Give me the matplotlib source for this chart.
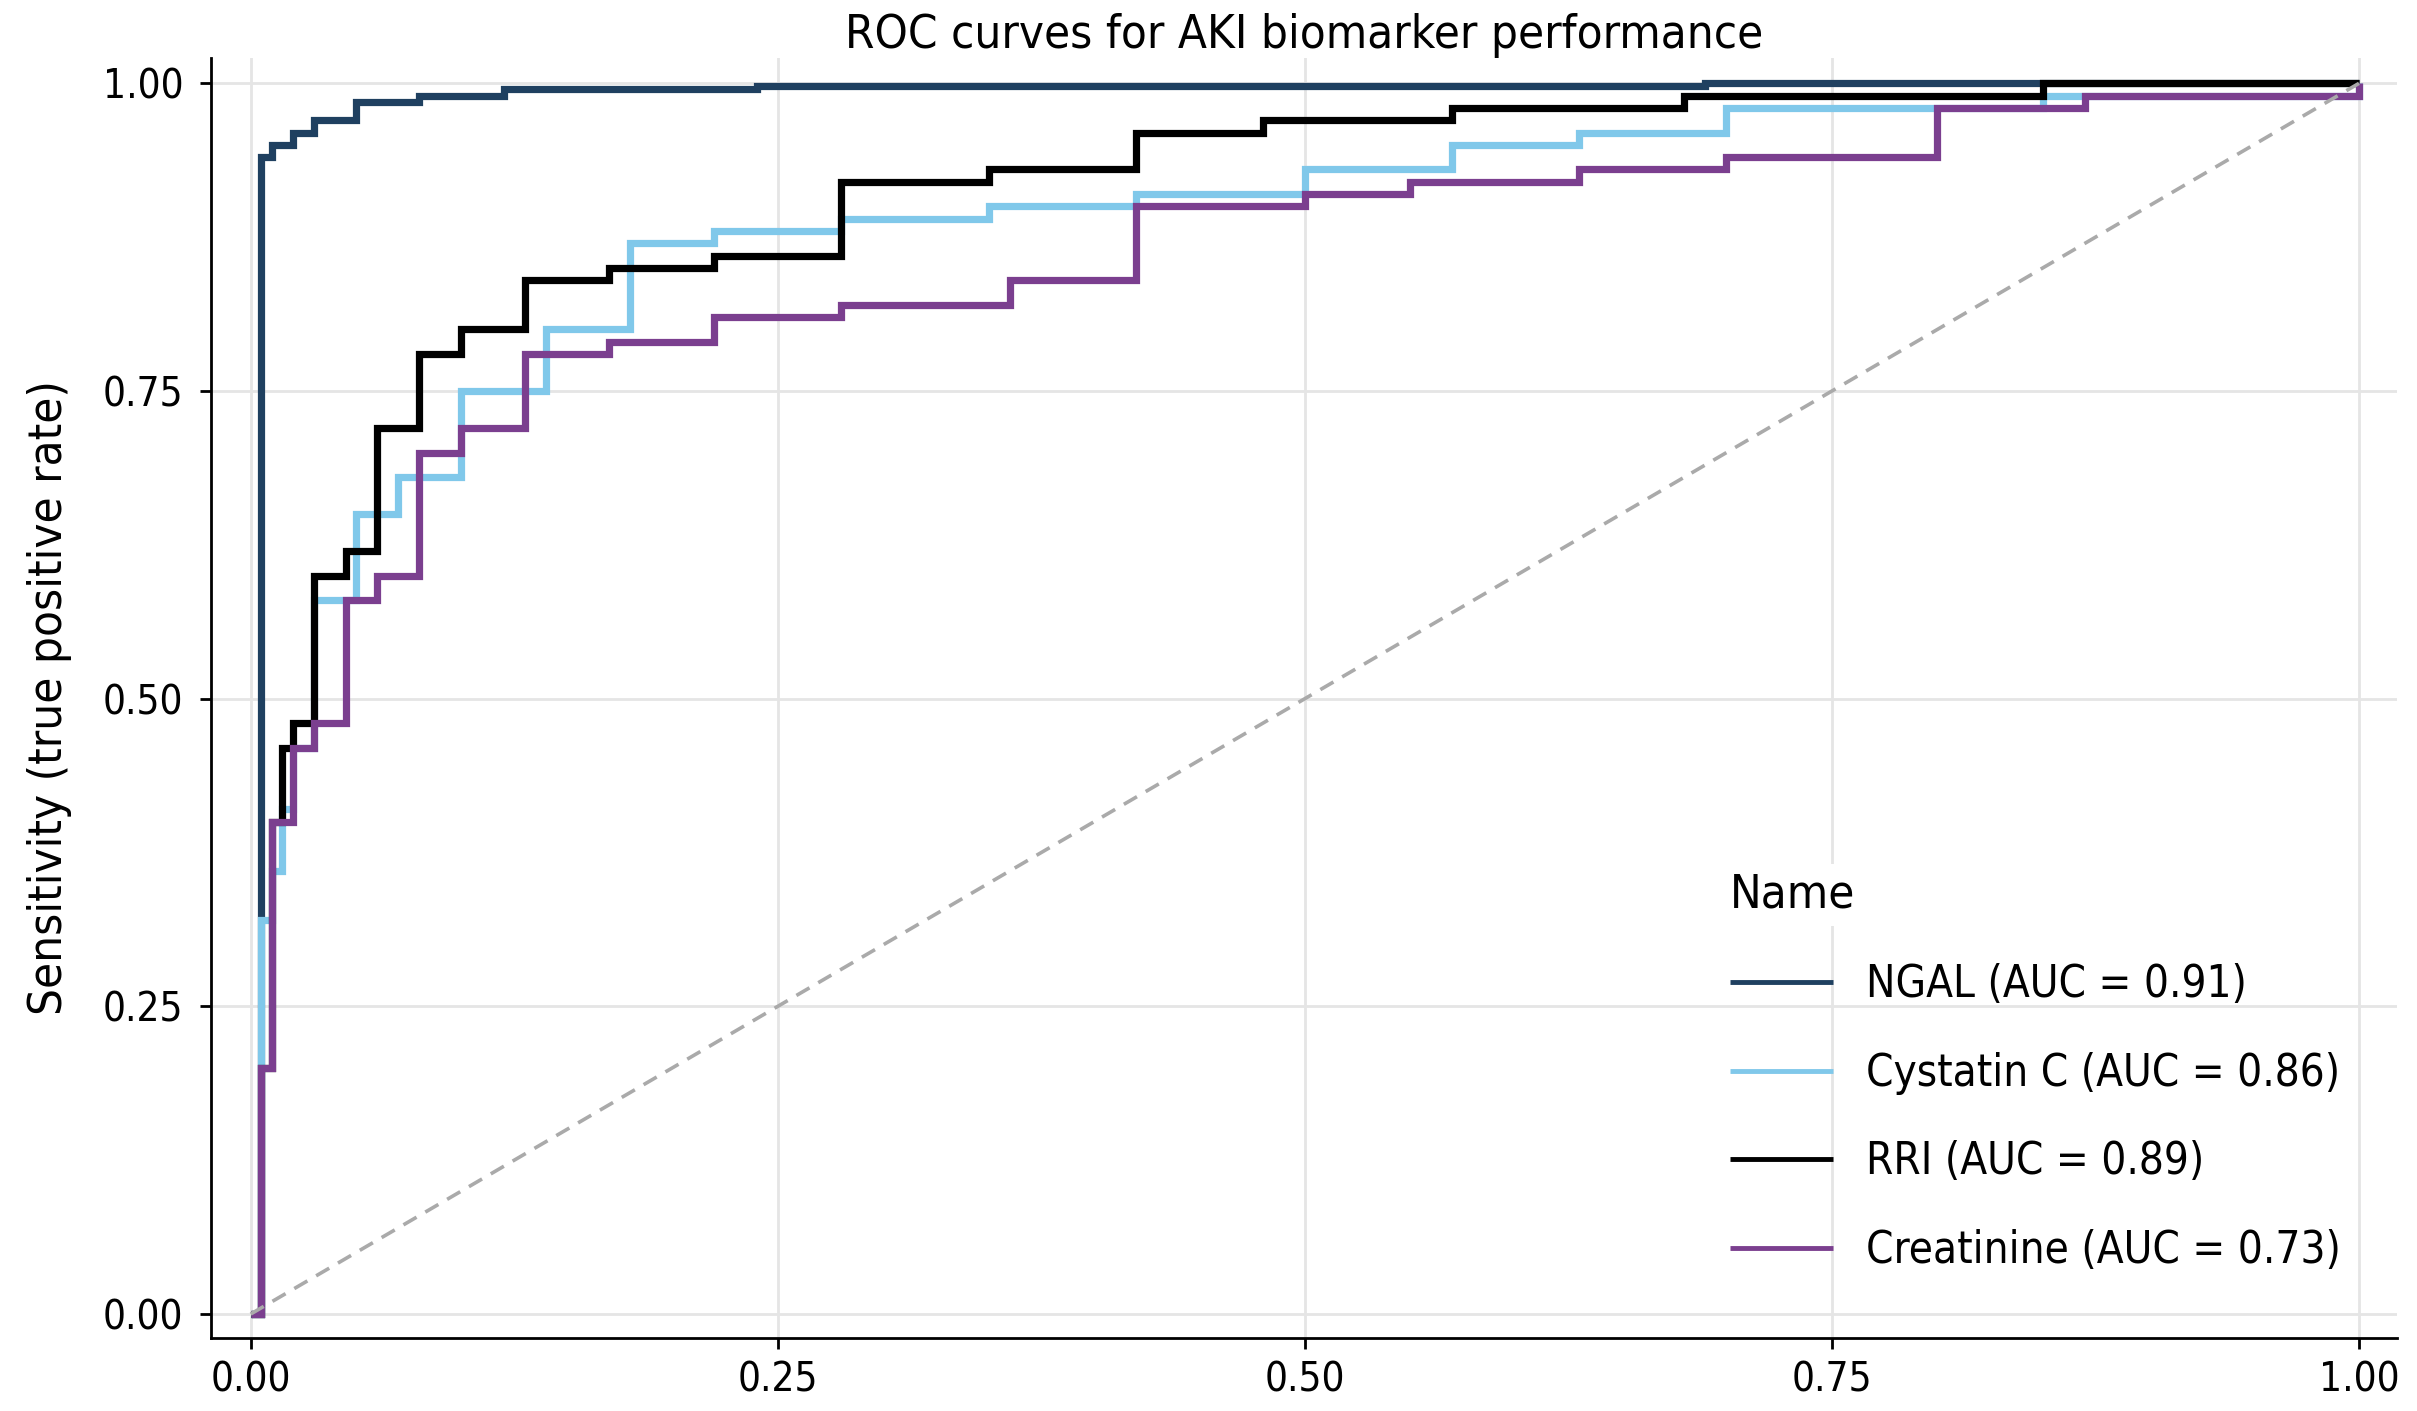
import matplotlib
matplotlib.use("Agg")
import matplotlib.pyplot as plt

plt.rcParams['font.family'] = ['DejaVu Sans']
plt.rcParams['font.stretch'] = 'condensed'

names = ["NGAL", "Cystatin C", "RRI", "Creatinine"]
aucs = [0.91, 0.86, 0.89, 0.73]
colors = ["#1f4060", "#80c8ea", "#000000", "#7b3f8f"]

# step vertices (false positive rate, true positive rate)
ngal_fpr = [0, 0.005, 0.005, 0.01, 0.01, 0.02, 0.02, 0.03, 0.03, 0.05, 0.05, 0.08, 0.08, 0.12, 0.12, 0.24, 0.24, 0.69, 0.69, 1.0]
ngal_tpr = [0, 0, 0.94, 0.94, 0.95, 0.95, 0.96, 0.96, 0.97, 0.97, 0.985, 0.985, 0.99, 0.99, 0.995, 0.995, 0.998, 0.998, 1.0, 1.0]

cys_fpr = [0, 0.005, 0.005, 0.01, 0.01, 0.015, 0.015, 0.02, 0.02, 0.03, 0.03, 0.05, 0.05, 0.07, 0.07, 0.10, 0.10, 0.14, 0.14,
           0.18, 0.18, 0.22, 0.22, 0.28, 0.28, 0.35, 0.35, 0.42, 0.42, 0.50, 0.50, 0.57, 0.57, 0.63, 0.63, 0.70, 0.70,
           0.85, 0.85, 1.0, 1.0]
cys_tpr = [0, 0, 0.32, 0.32, 0.36, 0.36, 0.41, 0.41, 0.46, 0.46, 0.58, 0.58, 0.65, 0.65, 0.68, 0.68, 0.75, 0.75, 0.80,
           0.80, 0.87, 0.87, 0.88, 0.88, 0.89, 0.89, 0.90, 0.90, 0.91, 0.91, 0.93, 0.93, 0.95, 0.95, 0.96, 0.96, 0.98,
           0.98, 0.99, 0.99, 1.0]

rri_fpr = [0, 0.005, 0.005, 0.01, 0.01, 0.015, 0.015, 0.02, 0.02, 0.03, 0.03, 0.045, 0.045, 0.06, 0.06, 0.08, 0.08,
           0.10, 0.10, 0.13, 0.13, 0.17, 0.17, 0.22, 0.22, 0.28, 0.28, 0.35, 0.35, 0.42, 0.42, 0.48, 0.48, 0.57, 0.57,
           0.68, 0.68, 0.85, 0.85, 1.0]
rri_tpr = [0, 0, 0.20, 0.20, 0.40, 0.40, 0.46, 0.46, 0.48, 0.48, 0.60, 0.60, 0.62, 0.62, 0.72, 0.72, 0.78,
           0.78, 0.80, 0.80, 0.84, 0.84, 0.85, 0.85, 0.86, 0.86, 0.92, 0.92, 0.93, 0.93, 0.96, 0.96, 0.97, 0.97, 0.98,
           0.98, 0.99, 0.99, 1.0, 1.0]

cre_fpr = [0, 0.005, 0.005, 0.01, 0.01, 0.02, 0.02, 0.03, 0.03, 0.045, 0.045, 0.06, 0.06, 0.08, 0.08, 0.10, 0.10,
           0.13, 0.13, 0.17, 0.17, 0.22, 0.22, 0.28, 0.28, 0.36, 0.36, 0.42, 0.42, 0.50, 0.50, 0.55, 0.55, 0.63, 0.63,
           0.70, 0.70, 0.80, 0.80, 0.87, 0.87, 1.0, 1.0]
cre_tpr = [0, 0, 0.20, 0.20, 0.40, 0.40, 0.46, 0.46, 0.48, 0.48, 0.58, 0.58, 0.60, 0.60, 0.70, 0.70, 0.72,
           0.72, 0.78, 0.78, 0.79, 0.79, 0.81, 0.81, 0.82, 0.82, 0.84, 0.84, 0.90, 0.90, 0.91, 0.91, 0.92, 0.92, 0.93,
           0.93, 0.94, 0.94, 0.98, 0.98, 0.99, 0.99, 1.0]

series = [(ngal_fpr, ngal_tpr), (cys_fpr, cys_tpr), (rri_fpr, rri_tpr), (cre_fpr, cre_tpr)]

xticks = [0.0, 0.25, 0.5, 0.75, 1.0]
yticks = [0.0, 0.25, 0.5, 0.75, 1.0]

fig = plt.figure(figsize=(24.17, 14.11), dpi=100)
ax = fig.add_axes([0.0873, 0.0517, 0.9917 - 0.0873, 0.9589 - 0.0517])

for (fx, ty), name, auc, col in zip(series, names, aucs, colors):
    ax.plot(fx, ty, color=col, lw=5.2, solid_joinstyle='miter', solid_capstyle='butt',
            label=f"{name} (AUC = {auc:.2f})")

ax.plot([0, 1], [0, 1], color="#aaaaaa", lw=2.6, ls=(0, (4.2, 2.8)))

ax.set_xlim(-0.0188, 1.018)
ax.set_ylim(-0.0195, 1.0206)
ax.set_xticks(xticks)
ax.set_yticks(yticks)
ax.set_xticklabels([f"{v:.2f}" for v in xticks])
ax.set_yticklabels([f"{v:.2f}" for v in yticks])
ax.grid(True, color="#e5e5e5", lw=2)
ax.set_axisbelow(True)
for s in ["top", "right"]:
    ax.spines[s].set_visible(False)
for s in ["left", "bottom"]:
    ax.spines[s].set_linewidth(2)
ax.tick_params(axis='both', labelsize=29, length=8, width=2)
ax.tick_params(axis='y', pad=12)
ax.tick_params(axis='x', pad=8)

ax.set_ylabel("Sensitivity (true positive rate)", fontsize=34, labelpad=22)
ax.set_title("ROC curves for AKI biomarker performance", fontsize=34, pad=-5)

leg = ax.legend(loc="upper left", bbox_to_anchor=(0.687, 0.377), frameon=False,
                fontsize=31.5, title="Name", title_fontsize=34,
                handlelength=2.35, handletextpad=0.75, labelspacing=1.04,
                alignment='left', borderaxespad=0)
for h in leg.get_lines():
    h.set_linewidth(3.5)
leg.get_title().set_bbox(dict(facecolor='white', edgecolor='none', pad=6))

fig.savefig("out.png", dpi=100)
